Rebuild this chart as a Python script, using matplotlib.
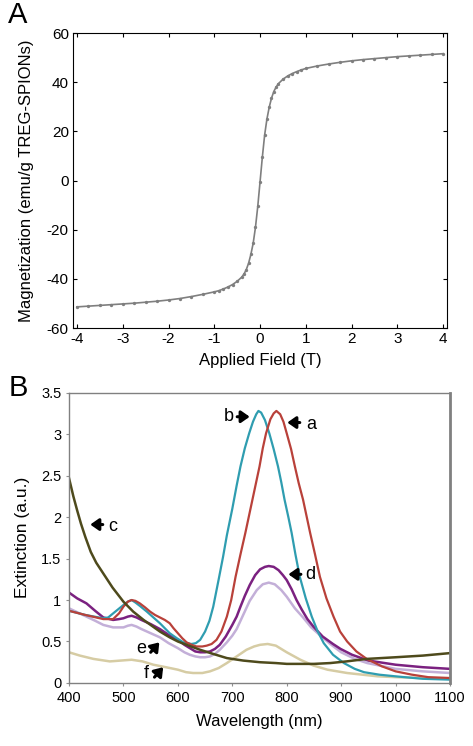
import matplotlib
matplotlib.use('Agg')
import matplotlib.pyplot as plt

plt.rcParams['font.family'] = ['Liberation Sans', 'DejaVu Sans']
plt.rcParams['axes.unicode_minus'] = False

# Panel A: magnetization curve
field_T = [-4.0, -3.75, -3.5, -3.25, -3.0, -2.75, -2.5, -2.25, -2.0, -1.75, -1.5,
           -1.25, -1.0, -0.9, -0.8, -0.7, -0.6, -0.5, -0.4, -0.35, -0.3, -0.25,
           -0.2, -0.15, -0.1, -0.05, 0.0, 0.05, 0.1, 0.15, 0.2, 0.25, 0.3, 0.35,
           0.4, 0.5, 0.6, 0.7, 0.8, 0.9, 1.0, 1.25, 1.5, 1.75, 2.0, 2.25, 2.5,
           2.75, 3.0, 3.25, 3.5, 3.75, 4.0]
magnetization = [-51.4, -51.1, -50.8, -50.5, -50.2, -49.9, -49.5, -49.1, -48.6,
                 -48.0, -47.2, -46.3, -45.3, -44.8, -44.1, -43.3, -42.3, -41.0,
                 -39.3, -38.0, -36.2, -33.6, -30.0, -25.5, -19.0, -10.5, -0.5,
                 9.5, 18.5, 25.0, 29.8, 33.5, 36.2, 38.0, 39.4, 41.2, 42.5, 43.5,
                 44.3, 45.0, 45.6, 46.6, 47.4, 48.1, 48.7, 49.2, 49.6, 50.0, 50.4,
                 50.7, 51.0, 51.3, 51.6]

# Panel B: extinction spectra
wl_a = [400, 430, 463, 481, 492, 500, 508, 515, 522, 530, 540, 549, 558, 567, 576,
        585, 592, 600, 608, 616, 625, 634, 645, 653, 662, 671, 680, 690, 698, 706,
        715, 724, 737, 750, 756, 762, 770, 776, 781, 788, 794, 800, 808, 815, 822,
        830, 843, 852, 861, 873, 886, 898, 911, 928, 947, 975, 1000, 1030, 1060, 1100]
ext_a = [0.87, 0.82, 0.77, 0.77, 0.84, 0.92, 0.98, 1.00, 0.99, 0.96, 0.91, 0.86,
         0.82, 0.79, 0.76, 0.72, 0.66, 0.60, 0.54, 0.49, 0.46, 0.44, 0.44, 0.45,
         0.47, 0.52, 0.62, 0.80, 1.00, 1.28, 1.55, 1.81, 2.21, 2.61, 2.83, 3.01,
         3.18, 3.25, 3.28, 3.24, 3.15, 3.01, 2.82, 2.61, 2.41, 2.21, 1.81, 1.55,
         1.28, 1.02, 0.80, 0.62, 0.50, 0.38, 0.29, 0.20, 0.14, 0.10, 0.07, 0.06]

wl_b = [400, 430, 463, 472, 485, 500, 508, 515, 522, 530, 543, 555, 567, 576, 585,
        598, 610, 625, 633, 641, 650, 658, 665, 675, 683, 690, 700, 708, 715, 723,
        731, 738, 744, 748, 753, 760, 768, 776, 784, 790, 796, 803, 809, 816, 824,
        835, 846, 857, 868, 885, 905, 925, 942, 970, 1000, 1050, 1100]
ext_b = [0.87, 0.82, 0.78, 0.79, 0.86, 0.94, 0.98, 1.00, 0.97, 0.93, 0.86, 0.79,
         0.72, 0.66, 0.60, 0.54, 0.49, 0.47, 0.48, 0.52, 0.62, 0.75, 0.92, 1.25,
         1.52, 1.78, 2.10, 2.38, 2.61, 2.83, 3.01, 3.15, 3.24, 3.28, 3.26, 3.17,
         3.01, 2.82, 2.61, 2.42, 2.21, 2.00, 1.81, 1.55, 1.28, 1.02, 0.80, 0.62,
         0.48, 0.34, 0.24, 0.17, 0.13, 0.10, 0.08, 0.05, 0.04]

wl_c = [400, 408, 415, 422, 430, 440, 450, 463, 480, 500, 518, 537, 552, 567, 585,
        600, 620, 641, 665, 690, 720, 751, 780, 800, 850, 880, 910, 947, 1000,
        1050, 1100]
ext_c = [2.47, 2.25, 2.08, 1.92, 1.76, 1.58, 1.45, 1.32, 1.15, 0.98, 0.86, 0.76,
         0.69, 0.62, 0.55, 0.50, 0.45, 0.40, 0.35, 0.30, 0.27, 0.25, 0.24, 0.23,
         0.23, 0.24, 0.26, 0.29, 0.31, 0.33, 0.36]

wl_d = [400, 415, 432, 448, 463, 481, 492, 500, 508, 515, 524, 533, 550, 567, 583,
        600, 612, 622, 632, 641, 650, 659, 668, 677, 688, 700, 708, 715, 723, 732,
        742, 751, 760, 767, 776, 785, 793, 800, 809, 818, 828, 838, 849, 866, 885,
        899, 920, 950, 1000, 1050, 1100]
ext_d = [1.09, 1.02, 0.96, 0.87, 0.79, 0.76, 0.77, 0.78, 0.80, 0.81, 0.79, 0.76,
         0.71, 0.65, 0.58, 0.52, 0.46, 0.42, 0.38, 0.37, 0.37, 0.38, 0.41, 0.46,
         0.56, 0.70, 0.80, 0.92, 1.05, 1.18, 1.30, 1.37, 1.40, 1.41, 1.40, 1.36,
         1.30, 1.24, 1.13, 1.00, 0.88, 0.77, 0.68, 0.56, 0.47, 0.41, 0.34, 0.27,
         0.22, 0.19, 0.17]

wl_e = [400, 416, 432, 448, 463, 481, 500, 508, 515, 524, 533, 550, 567, 583, 600,
        612, 622, 632, 641, 650, 659, 668, 677, 690, 700, 708, 720, 732, 745, 756,
        767, 778, 790, 800, 815, 830, 845, 862, 880, 900, 925, 948, 1000, 1050, 1100]
ext_e = [0.90, 0.85, 0.80, 0.75, 0.70, 0.67, 0.67, 0.69, 0.70, 0.68, 0.65, 0.60,
         0.55, 0.48, 0.42, 0.37, 0.34, 0.32, 0.31, 0.31, 0.32, 0.35, 0.40, 0.49,
         0.57, 0.65, 0.82, 0.99, 1.12, 1.19, 1.21, 1.19, 1.12, 1.04, 0.90, 0.79,
         0.67, 0.57, 0.47, 0.37, 0.29, 0.24, 0.17, 0.14, 0.12]

wl_f = [400, 420, 445, 475, 495, 515, 535, 555, 578, 600, 615, 628, 645, 659, 675,
        690, 708, 726, 740, 751, 765, 780, 800, 825, 849, 875, 911, 967, 1000,
        1050, 1100]
ext_f = [0.37, 0.33, 0.29, 0.26, 0.27, 0.28, 0.26, 0.22, 0.19, 0.16, 0.13, 0.12,
         0.12, 0.14, 0.18, 0.24, 0.32, 0.40, 0.44, 0.46, 0.47, 0.45, 0.37, 0.28,
         0.21, 0.16, 0.12, 0.08, 0.07, 0.06, 0.05]

fig = plt.figure(figsize=(4.73, 7.46), dpi=100)

# ---- Panel A ----
axA = fig.add_axes([0.1543, 0.5603, 0.791, 0.3954])
axA.plot(field_T, magnetization, '-', color='#7f7f7f', lw=1.2,
         marker='o', markersize=2.4, markeredgewidth=0)
axA.set_xlim(-4.087, 4.087)
axA.set_ylim(-60, 60)
axA.set_xticks(range(-4, 5))
axA.set_yticks(range(-60, 61, 20))
axA.tick_params(direction='in', top=True, right=True, length=3, width=0.8,
                labelsize=11, pad=3)
for s in axA.spines.values():
    s.set_linewidth(0.8)
axA.set_xlabel('Applied Field (T)', fontsize=12, labelpad=5)
axA.set_ylabel('Magnetization (emu/g TREG-SPIONs)', fontsize=12, labelpad=9)
fig.text(0.038, 0.98, 'A', fontsize=21, ha='center', va='center')

# ---- Panel B ----
axB = fig.add_axes([0.1459, 0.0845, 0.8055, 0.3891])
axB.plot(wl_f, ext_f, color='#d6cca4', lw=1.8)
axB.plot(wl_e, ext_e, color='#c3afd8', lw=1.8)
axB.plot(wl_d, ext_d, color='#7b2180', lw=1.8)
axB.plot(wl_b, ext_b, color='#2f9db0', lw=1.6)
axB.plot(wl_a, ext_a, color='#b9413a', lw=1.6)
axB.plot(wl_c, ext_c, color='#4e4a1c', lw=1.8)
axB.set_xlim(400, 1100)
axB.set_ylim(0, 3.5)
axB.set_xticks(range(400, 1101, 100))
axB.set_yticks([0, 0.5, 1, 1.5, 2, 2.5, 3, 3.5])
axB.set_yticklabels(['0', '0.5', '1', '1.5', '2', '2.5', '3', '3.5'])
axB.tick_params(direction='out', length=2.5, width=0.8, color='#909090',
                labelsize=10.5, pad=3)
for s in axB.spines.values():
    s.set_color('#808080')
    s.set_linewidth(1.0)
axB.spines['right'].set_linewidth(2.0)
axB.set_xlabel('Wavelength (nm)', fontsize=12, labelpad=7)
axB.set_ylabel('Extinction (a.u.)', fontsize=12.5, labelpad=8)
fig.text(0.038, 0.48, 'B', fontsize=21, ha='center', va='center')

arrow = dict(arrowstyle='-|>,head_length=0.5,head_width=0.35', color='k',
             lw=2.2, shrinkA=0, shrinkB=0)
lab = dict(fontsize=13, va='center')
axB.annotate('', xy=(732, 3.21), xytext=(709, 3.21), arrowprops=arrow)
axB.text(702, 3.21, 'b', ha='right', **lab)
axB.annotate('', xy=(801, 3.14), xytext=(824, 3.14), arrowprops=arrow)
axB.text(836, 3.12, 'a', ha='left', **lab)
axB.annotate('', xy=(439, 1.91), xytext=(462, 1.91), arrowprops=arrow)
axB.text(472, 1.89, 'c', ha='left', **lab)
axB.annotate('', xy=(803, 1.31), xytext=(826, 1.31), arrowprops=arrow)
axB.text(834, 1.31, 'd', ha='left', **lab)
axB.annotate('', xy=(566, 0.49), xytext=(550, 0.37), arrowprops=arrow)
axB.text(541, 0.42, 'e', ha='right', **lab)
axB.annotate('', xy=(573, 0.19), xytext=(557, 0.07), arrowprops=arrow)
axB.text(546, 0.12, 'f', ha='right', **lab)

fig.savefig('out.png', dpi=100)
plt.close(fig)
